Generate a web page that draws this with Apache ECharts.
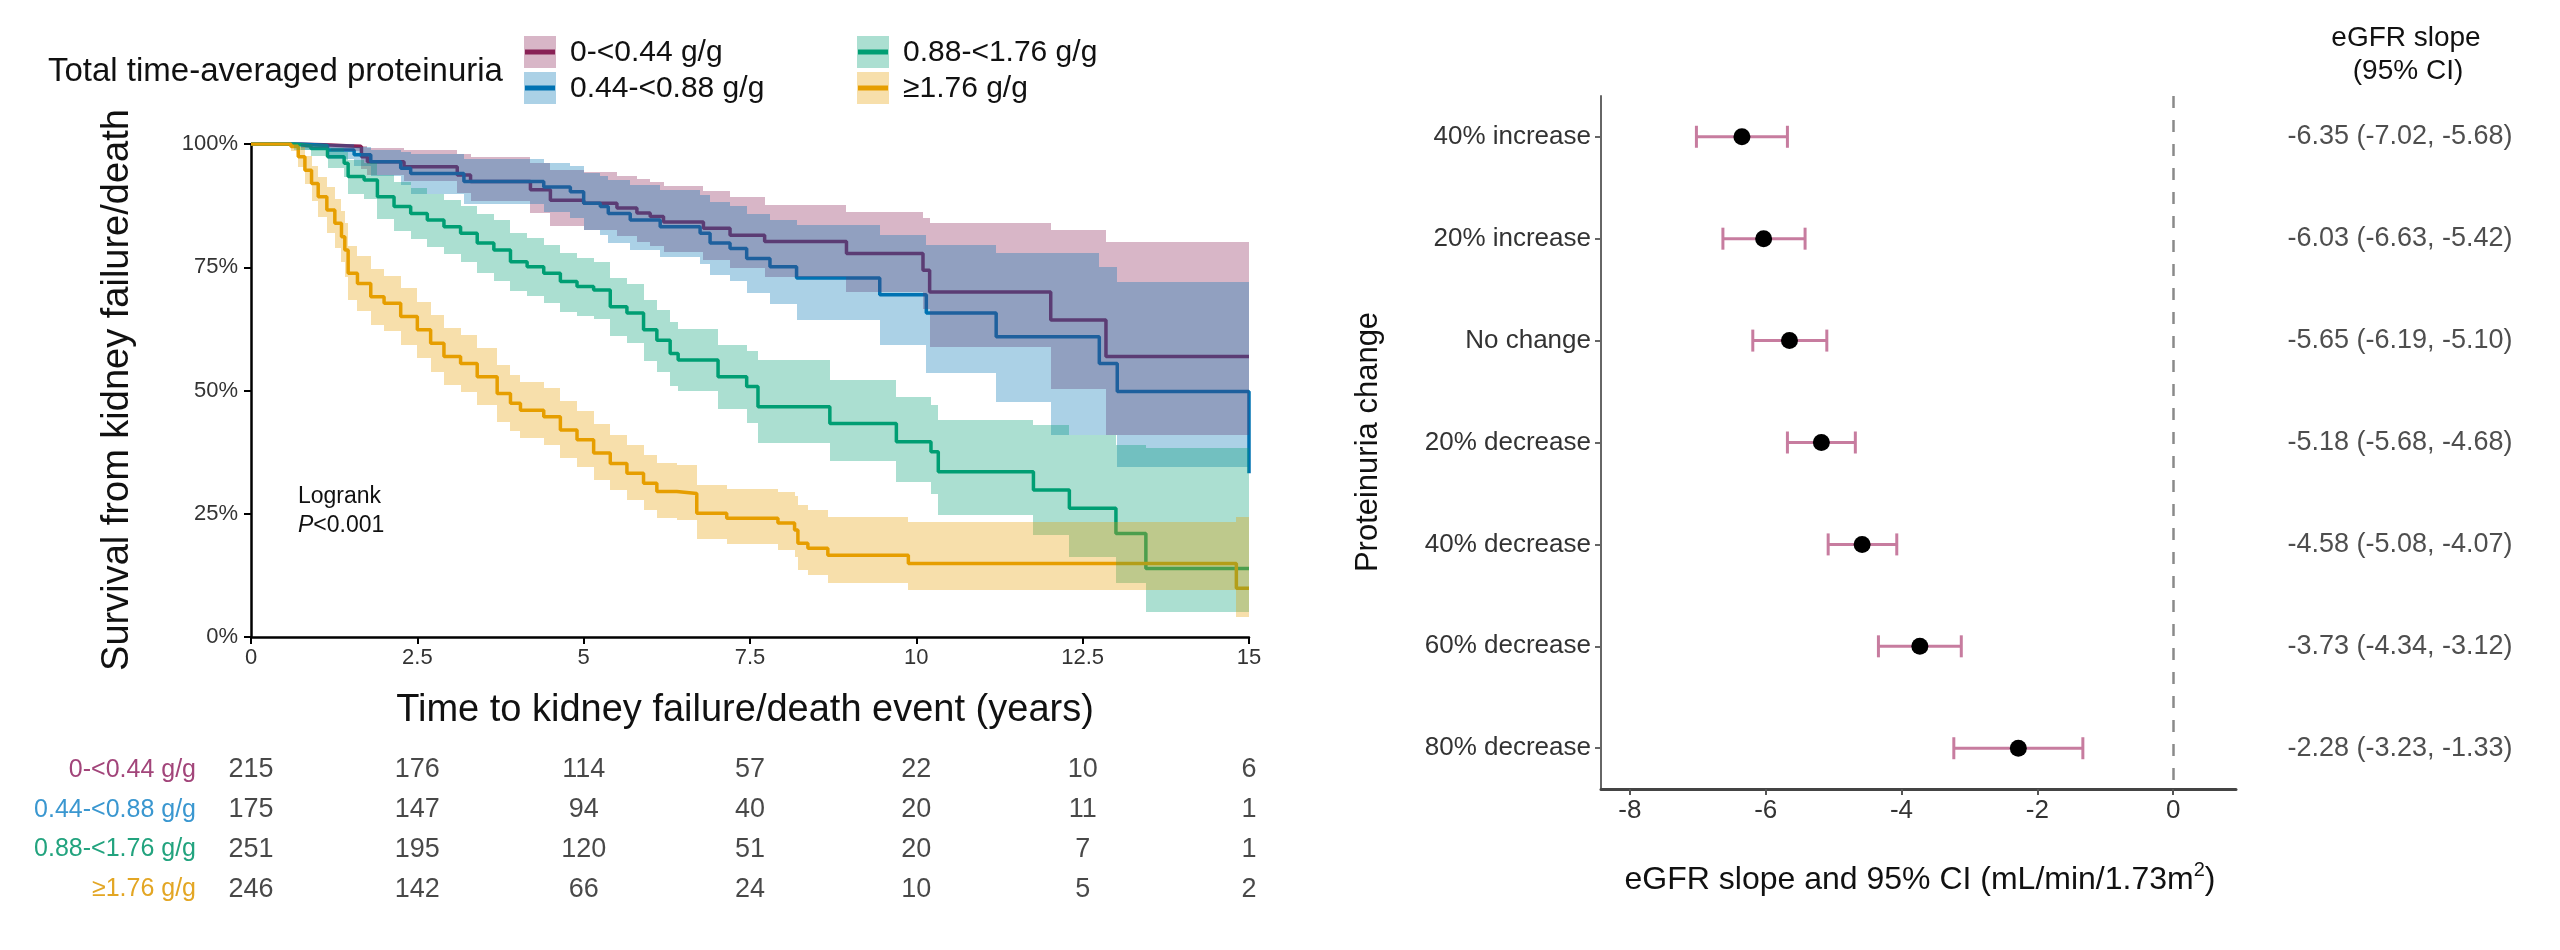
<!DOCTYPE html>
<html>
<head>
<meta charset="utf-8">
<title>Proteinuria: survival and eGFR slope</title>
<script src="https://cdn.jsdelivr.net/npm/echarts@6.0.0/dist/echarts.min.js"></script>
<style>
  html, body { margin: 0; padding: 0; background: #fff; }
  #chart { width: 2560px; height: 950px; }
</style>
</head>
<body>
<div id="chart"></div>
<script>
var FONT = '"Liberation Sans", Arial, Helvetica, sans-serif';

// --- Kaplan-Meier groups ---
var groupNames = ['0-<0.44 g/g', '0.44-<0.88 g/g', '0.88-<1.76 g/g', '≥1.76 g/g'];
var lineColors = ['#882255', '#0072B2', '#009E73', '#E69F00'];
var tableColors = ['#a2457a', '#3a97d0', '#22a37e', '#e3a624'];

var g1Time  = [0, 0.75, 1.2, 1.66, 1.75, 2.3, 3.1, 3.3, 4.2, 4.5, 5.0, 5.5, 5.8, 6.0, 6.2, 6.8, 7.2, 7.72, 8.95, 10.1, 10.2, 12.02, 12.85, 15];
var g1Surv  = [100, 99.8, 99.5, 97.4, 96.4, 95.4, 93.7, 92.4, 90.7, 88.6, 88.0, 87.0, 86.0, 85.3, 84.2, 82.9, 81.5, 80.2, 77.8, 74.4, 70.0, 64.3, 56.9, 56.9];
var g1Upper = [100, 100, 100, 99.6, 99.2, 98.8, 98.0, 97.4, 96.2, 94.8, 94.4, 93.6, 92.8, 92.2, 91.4, 90.4, 89.2, 87.6, 86.3, 85.0, 83.9, 82.6, 80.2, 80.2];
var g1Lower = [100, 99.2, 98.5, 95.0, 93.8, 92.4, 90.0, 88.4, 86.0, 83.4, 82.6, 81.4, 80.2, 79.4, 78.0, 76.4, 74.8, 73.1, 70.0, 66.5, 58.9, 50.4, 41.0, 41.0];

var g2Time  = [0, 0.75, 1.15, 1.55, 1.8, 2.25, 2.4, 3.2, 4.4, 4.8, 5.0, 5.25, 5.37, 5.7, 6.15, 6.75, 6.9, 7.2, 7.45, 7.8, 8.2, 9.45, 10.15, 11.2, 12.03, 12.75, 13.02, 15];
var g2Surv  = [100, 99.7, 98.8, 97.8, 96.4, 95.1, 94.0, 92.4, 91.3, 90.3, 88.0, 87.3, 85.9, 84.6, 83.2, 81.9, 79.9, 78.8, 76.8, 75.1, 72.8, 69.4, 65.7, 60.9, 60.9, 55.5, 49.8, 33.2];
var g2Upper = [100, 100, 99.9, 99.4, 98.8, 98.4, 98.0, 97.0, 96.2, 95.6, 94.2, 93.6, 92.6, 91.6, 90.6, 89.6, 88.2, 87.4, 85.9, 84.6, 83.6, 81.5, 79.5, 77.8, 77.8, 75.0, 72.1, 72.1];
var g2Lower = [100, 98.8, 97.0, 95.6, 93.6, 91.6, 89.8, 87.8, 86.2, 85.0, 82.6, 81.6, 80.0, 78.6, 77.0, 75.6, 73.4, 72.2, 69.7, 67.5, 64.2, 59.2, 53.5, 47.7, 41.0, 41.0, 34.5, 34.5];

var g3Time  = [0, 0.65, 0.9, 1.15, 1.4, 1.46, 1.7, 1.9, 2.15, 2.4, 2.65, 2.9, 3.15, 3.4, 3.65, 3.9, 4.15, 4.4, 4.65, 4.9, 5.15, 5.4, 5.65, 5.9, 6.1, 6.3, 6.42, 7.02, 7.45, 7.62, 8.7, 9.7, 10.22, 10.33, 11.76, 12.3, 13.0, 13.45, 15];
var g3Surv  = [100, 99.6, 99.1, 97.4, 96.1, 93.4, 92.7, 89.3, 87.3, 85.9, 84.6, 83.2, 81.9, 79.9, 78.5, 76.1, 75.1, 73.8, 72.1, 71.1, 70.4, 67.0, 65.7, 62.3, 60.2, 57.5, 56.2, 52.8, 50.8, 46.7, 43.3, 39.6, 37.6, 33.5, 29.8, 26.1, 21.0, 13.9, 13.9];
var g3Upper = [100, 100, 99.9, 99.2, 98.4, 96.8, 96.2, 93.8, 92.2, 91.0, 89.8, 88.6, 87.5, 85.8, 84.6, 81.9, 80.9, 79.6, 77.8, 76.8, 76.0, 72.8, 71.6, 68.4, 66.4, 63.8, 62.5, 59.2, 58.0, 56.2, 52.1, 48.7, 47.0, 44.0, 43.0, 41.0, 38.9, 38.3, 38.3];
var g3Lower = [100, 98.8, 97.6, 95.2, 93.4, 89.8, 88.8, 84.8, 82.4, 80.8, 79.2, 77.6, 76.1, 73.8, 72.2, 70.2, 69.2, 67.8, 66.0, 65.2, 64.6, 61.0, 59.6, 56.0, 53.8, 51.0, 49.8, 46.2, 43.4, 39.3, 35.6, 31.5, 29.0, 24.7, 20.7, 16.3, 10.9, 5.1, 5.1];

var g4Time  = [0, 0.6, 0.71, 0.81, 0.91, 1.01, 1.14, 1.26, 1.36, 1.41, 1.46, 1.6, 1.8, 2.0, 2.25, 2.5, 2.7, 2.9, 3.15, 3.4, 3.7, 3.9, 4.05, 4.4, 4.65, 4.9, 5.15, 5.4, 5.65, 5.9, 6.1, 6.4, 6.7, 7.15, 7.92, 8.17, 8.22, 8.37, 8.67, 9.88, 14.81, 15];
var g4Surv  = [100, 99.5, 97.4, 94.7, 92.0, 89.3, 86.6, 83.9, 81.2, 78.5, 73.8, 71.7, 69.0, 67.7, 65.0, 62.3, 59.6, 56.9, 55.5, 52.8, 49.4, 47.4, 46.0, 44.7, 42.0, 40.0, 37.3, 35.2, 33.2, 31.2, 29.5, 29.1, 25.1, 24.1, 23.1, 21.7, 19.0, 18.0, 16.6, 14.9, 9.9, 9.9];
var g4Upper = [100, 100, 99.4, 97.6, 95.6, 93.4, 91.2, 88.8, 86.4, 83.9, 79.3, 77.3, 74.7, 73.3, 70.7, 68.0, 65.4, 62.7, 61.3, 58.6, 55.2, 53.2, 51.8, 50.5, 47.8, 45.8, 43.2, 41.0, 39.0, 37.0, 35.3, 34.9, 30.8, 30.0, 29.5, 28.5, 26.8, 25.8, 24.4, 23.4, 24.4, 24.4];
var g4Lower = [100, 98.6, 95.4, 91.8, 88.4, 85.2, 82.0, 79.0, 76.0, 73.1, 68.3, 66.1, 63.3, 62.0, 59.3, 56.6, 53.8, 51.1, 49.7, 47.0, 43.7, 41.7, 40.3, 39.0, 36.4, 34.4, 31.8, 29.8, 27.8, 25.8, 24.2, 23.8, 19.9, 18.8, 17.6, 16.2, 13.6, 12.5, 10.9, 9.5, 4.1, 4.1];

// --- number at risk ---
var riskTimes = [0, 2.5, 5, 7.5, 10, 12.5, 15];
var risk1 = [215, 176, 114, 57, 22, 10, 6];
var risk2 = [175, 147, 94, 40, 20, 11, 1];
var risk3 = [251, 195, 120, 51, 20, 7, 1];
var risk4 = [246, 142, 66, 24, 10, 5, 2];

// --- forest plot ---
var changeLabels = ['40% increase', '20% increase', 'No change', '20% decrease', '40% decrease', '60% decrease', '80% decrease'];
var slopeEst = [-6.35, -6.03, -5.65, -5.18, -4.58, -3.73, -2.28];
var slopeLow = [-7.02, -6.63, -6.19, -5.68, -5.08, -4.34, -3.23];
var slopeHigh = [-5.68, -5.42, -5.10, -4.68, -4.07, -3.12, -1.33];
var slopeTicks = [-8, -6, -4, -2, 0];
var rowTicks = [0, 1, 2, 3, 4, 5, 6];

var groups = [
  { time: g1Time, surv: g1Surv, lo: g1Lower, hi: g1Upper, risk: risk1 },
  { time: g2Time, surv: g2Surv, lo: g2Lower, hi: g2Upper, risk: risk2 },
  { time: g3Time, surv: g3Surv, lo: g3Lower, hi: g3Upper, risk: risk3 },
  { time: g4Time, surv: g4Surv, lo: g4Lower, hi: g4Upper, risk: risk4 }
];

var BAND_OPACITY = 0.33;
var series = [];

// survival curves (drawn first: the ribbons sit on top, as in the original)
groups.forEach(function(g, k) {
  series.push({
    name: groupNames[k],
    type: 'line', xAxisIndex: 0, yAxisIndex: 0,
    step: 'end', symbol: 'none', silent: true, z: 1,
    lineStyle: { color: lineColors[k], width: 3.5 },
    data: g.time.map(function(t, i) { return [t, g.surv[i]]; })
  });
});

// CI ribbons: one pixel-snapped rect per step interval
groups.forEach(function(g, k) {
  var segs = [];
  for (var i = 0; i < g.time.length - 1; i++) {
    segs.push([g.time[i], g.time[i + 1], g.lo[i], g.hi[i]]);
  }
  series.push({
    type: 'custom', xAxisIndex: 0, yAxisIndex: 0, silent: true, z: 2, clip: true,
    encode: { x: [0, 1], y: [2, 3] },
    renderItem: function(params, api) {
      var a = api.coord([api.value(0), api.value(3)]);
      var b = api.coord([api.value(1), api.value(2)]);
      var x0 = Math.round(a[0]), x1 = Math.round(b[0]);
      var y0 = Math.round(a[1]), y1 = Math.round(b[1]);
      if (x1 <= x0) return null;
      return {
        type: 'rect',
        shape: { x: x0, y: y0, width: x1 - x0, height: y1 - y0 },
        style: { fill: lineColors[k], opacity: BAND_OPACITY }
      };
    },
    data: segs
  });
});

// risk table numbers
var riskData = [];
groups.forEach(function(g, k) {
  riskTimes.forEach(function(t, i) { riskData.push([t, k, g.risk[i]]); });
});
series.push({
  type: 'scatter', xAxisIndex: 2, yAxisIndex: 2,
  symbolSize: 1, itemStyle: { color: 'rgba(0,0,0,0)' }, silent: true,
  label: {
    show: true, position: 'inside', fontSize: 27, fontFamily: FONT, color: '#1a1a1a',
    formatter: function(p) { return p.value[2]; }
  },
  data: riskData
});

// forest: error bars
var BAR_COLOR = '#c77c9f';
series.push({
  type: 'custom', xAxisIndex: 1, yAxisIndex: 1, silent: true, z: 2,
  encode: { x: [0, 2, 3], y: 1 },
  renderItem: function(params, api) {
    var y = api.value(1);
    var a = api.coord([api.value(2), y]);
    var b = api.coord([api.value(3), y]);
    var h = 11;
    var st = { stroke: BAR_COLOR, lineWidth: 3 };
    return {
      type: 'group',
      children: [
        { type: 'line', shape: { x1: a[0], y1: a[1], x2: b[0], y2: b[1] }, style: st },
        { type: 'line', shape: { x1: a[0], y1: a[1] - h, x2: a[0], y2: a[1] + h }, style: st },
        { type: 'line', shape: { x1: b[0], y1: b[1] - h, x2: b[0], y2: b[1] + h }, style: st }
      ]
    };
  },
  data: slopeEst.map(function(v, i) { return [v, i, slopeLow[i], slopeHigh[i]]; })
});

// forest: point estimates + zero reference line
series.push({
  type: 'scatter', xAxisIndex: 1, yAxisIndex: 1, silent: true, z: 4,
  symbolSize: 17, itemStyle: { color: '#000', opacity: 1 },
  data: slopeEst.map(function(v, i) { return [v, i]; }),
  markLine: {
    silent: true, symbol: ['none', 'none'], label: { show: false },
    lineStyle: { type: [12, 12], color: '#8a8a8a', width: 2.5 },
    data: [{ xAxis: 0 }]
  }
});

// forest: text column
series.push({
  type: 'scatter', xAxisIndex: 3, yAxisIndex: 3,
  symbolSize: 1, itemStyle: { color: 'rgba(0,0,0,0)' }, silent: true,
  label: {
    show: true, position: 'inside', fontSize: 27, fontFamily: FONT, color: '#222',
    formatter: function(p) {
      var i = p.dataIndex;
      return slopeEst[i].toFixed(2) + ' (' + slopeLow[i].toFixed(2) + ', ' + slopeHigh[i].toFixed(2) + ')';
    }
  },
  data: slopeEst.map(function(v, i) { return [0.5, i]; })
});

// --- legend and titles (graphic) ---
var graphics = [];
function txt(x, y, text, size, opts) {
  opts = opts || {};
  return {
    type: 'text', x: x, y: y, rotation: opts.rotation || 0, silent: true,
    style: {
      text: text, fontSize: size, fontFamily: FONT, fill: opts.fill || '#111',
      textAlign: opts.align || 'left', align: opts.align || 'left',
      textVerticalAlign: 'middle', verticalAlign: 'middle',
      rich: opts.rich
    }
  };
}

graphics.push(txt(48, 72, 'Total time-averaged proteinuria', 33));
var keyCols = [524, 857];
var keyRows = [52, 88];
groupNames.forEach(function(name, k) {
  var kx = keyCols[Math.floor(k / 2)];
  var ky = keyRows[k % 2];
  graphics.push({
    type: 'line', silent: true,
    shape: { x1: kx + 1, y1: ky, x2: kx + 31, y2: ky },
    style: { stroke: lineColors[k], lineWidth: 5 }
  });
  graphics.push({
    type: 'rect', silent: true,
    shape: { x: kx, y: ky - 16, width: 32, height: 32 },
    style: { fill: lineColors[k], opacity: BAND_OPACITY }
  });
  graphics.push(txt(kx + 46, ky + 1, name, 30));
});

graphics.push(txt(298, 497, 'Logrank', 23));
graphics.push(txt(298, 526, '{i|P}{n|<0.001}', 23, {
  rich: { i: { fontStyle: 'italic', fontSize: 23, fontFamily: FONT }, n: { fontSize: 23, fontFamily: FONT } }
}));

graphics.push(txt(118, 390, 'Survival from kidney failure/death', 38, { align: 'center', rotation: Math.PI / 2 }));
graphics.push(txt(745, 711, 'Time to kidney failure/death event (years)', 38, { align: 'center' }));

graphics.push(txt(1368, 442, 'Proteinuria change', 31, { align: 'center', rotation: Math.PI / 2 }));
graphics.push(txt(1920, 880, '{t|eGFR slope and 95% CI (mL/min/1.73m}{s|2}{t|)}', 32, {
  align: 'center',
  rich: {
    t: { fontSize: 32, lineHeight: 40, fontFamily: FONT },
    s: { fontSize: 20, lineHeight: 22, verticalAlign: 'top', fontFamily: FONT }
  }
}));
graphics.push(txt(2406, 38, 'eGFR slope', 28, { align: 'center' }));
graphics.push(txt(2408, 71, '(95% CI)', 28, { align: 'center' }));

// --- chart ---
var chart = echarts.init(document.getElementById('chart'), null, { renderer: 'canvas', width: 2560, height: 950 });
var kmAxisLine = { show: true, onZero: false, lineStyle: { color: '#000', width: 2.5 } };
var kmTick = { show: true, length: 7, lineStyle: { color: '#000', width: 2 } };
var kmLabel = { fontSize: 22, color: '#333', fontFamily: FONT };

chart.setOption({
  animation: false,
  backgroundColor: '#fff',
  textStyle: { fontFamily: FONT },
  grid: [
    { left: 251, top: 144, width: 998, height: 493 },
    { left: 1601, top: 96, width: 635, height: 693 },
    { left: 251, top: 750, width: 998, height: 159 },
    { left: 2300, top: 96, width: 200, height: 693 }
  ],
  xAxis: [
    {
      gridIndex: 0, type: 'value', min: 0, max: 15, interval: 2.5,
      axisLine: kmAxisLine, axisTick: kmTick, splitLine: { show: false },
      axisLabel: Object.assign({ margin: 10 }, kmLabel)
    },
    {
      gridIndex: 1, type: 'value', min: -8.425, max: 0.925,
      axisLine: { show: true, onZero: false, lineStyle: { color: '#444', width: 3 } },
      axisTick: { show: true, length: 6, customValues: slopeTicks, lineStyle: { color: '#555', width: 2 } },
      axisLabel: { margin: 9, fontSize: 26, color: '#333', fontFamily: FONT, customValues: slopeTicks },
      splitLine: { show: false }
    },
    { gridIndex: 2, type: 'value', min: 0, max: 15, show: false },
    { gridIndex: 3, type: 'value', min: 0, max: 1, show: false }
  ],
  yAxis: [
    {
      gridIndex: 0, type: 'value', min: 0, max: 100, interval: 25,
      axisLine: kmAxisLine, axisTick: kmTick, splitLine: { show: false },
      axisLabel: Object.assign({ margin: 13, formatter: '{value}%' }, kmLabel)
    },
    {
      gridIndex: 1, type: 'value', min: -0.4, max: 6.4, inverse: true,
      axisLine: { show: true, onZero: false, lineStyle: { color: '#666', width: 2 } },
      axisTick: { show: true, length: 6, customValues: rowTicks, lineStyle: { color: '#666', width: 2 } },
      axisLabel: {
        margin: 10, fontSize: 26, color: '#333', fontFamily: FONT, customValues: rowTicks,
        formatter: function(v) { return changeLabels[Math.round(v)]; }
      },
      splitLine: { show: false }
    },
    {
      gridIndex: 2, type: 'category', data: groupNames, inverse: true,
      axisLine: { show: false }, axisTick: { show: false },
      axisLabel: {
        margin: 55, fontSize: 25, fontFamily: FONT,
        color: function(v, i) { return tableColors[i]; }
      }
    },
    { gridIndex: 3, type: 'value', min: -0.4, max: 6.4, inverse: true, show: false }
  ],
  graphic: graphics,
  series: series
});
</script>
</body>
</html>
